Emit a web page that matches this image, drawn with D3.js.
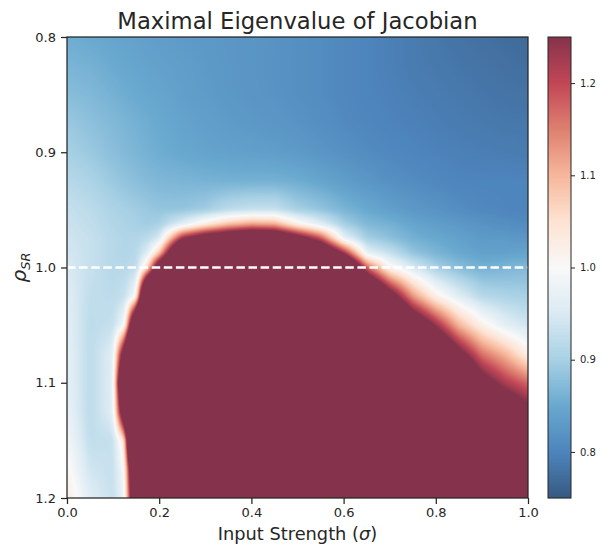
<!DOCTYPE html>
<html><head><meta charset="utf-8">
<script src="https://cdn.jsdelivr.net/npm/d3@7"></script>
<style>
body{margin:0;background:#fff;}
text{font-family:"DejaVu Sans",sans-serif;fill:#262626;}
</style>
</head><body>
<svg id="chart" width="602" height="545"></svg>
<script>
// ---------------- data ----------------
const sigmaGrid = [0,0.05,0.1,0.125,0.15,0.175,0.2,0.25,0.3,0.35,0.4,0.45,0.5,0.55,0.6,0.65,0.7,0.75,0.8,0.85,0.9,0.95,1.0];
const rhoGrid = [0.8,0.825,0.85,0.875,0.9,0.925,0.95,0.9625,0.975,0.9875,1.0,1.025,1.05,1.075,1.1,1.125,1.15,1.175,1.2];
// maximal eigenvalue of the Jacobian: one row per rho value, one column per sigma value
const eigenRows = [
 [0.855,0.85,0.845,0.842,0.84,0.837,0.835,0.83,0.828,0.825,0.822,0.82,0.815,0.81,0.805,0.80,0.795,0.79,0.785,0.78,0.777,0.773,0.77],
 [0.865,0.86,0.852,0.848,0.845,0.842,0.84,0.835,0.83,0.826,0.822,0.819,0.815,0.81,0.805,0.80,0.795,0.79,0.787,0.784,0.78,0.777,0.775],
 [0.875,0.87,0.86,0.855,0.851,0.848,0.845,0.838,0.832,0.827,0.823,0.82,0.815,0.81,0.805,0.80,0.797,0.793,0.79,0.787,0.784,0.781,0.78],
 [0.89,0.88,0.87,0.865,0.86,0.855,0.85,0.843,0.837,0.832,0.828,0.824,0.82,0.814,0.808,0.803,0.799,0.796,0.793,0.79,0.788,0.786,0.785],
 [0.90,0.89,0.877,0.871,0.865,0.86,0.855,0.848,0.843,0.84,0.838,0.835,0.83,0.823,0.816,0.81,0.805,0.801,0.798,0.795,0.793,0.792,0.79],
 [0.915,0.905,0.89,0.883,0.877,0.872,0.868,0.865,0.862,0.86,0.86,0.86,0.855,0.845,0.835,0.825,0.816,0.81,0.805,0.80,0.80,0.80,0.80],
 [0.93,0.92,0.905,0.90,0.895,0.89,0.885,0.885,0.895,0.92,0.93,0.93,0.90,0.885,0.865,0.85,0.838,0.828,0.82,0.812,0.806,0.802,0.80],
 [0.935,0.925,0.91,0.905,0.90,0.895,0.90,0.96,1.03,1.09,1.12,1.11,1.02,0.96,0.90,0.87,0.86,0.845,0.835,0.828,0.82,0.813,0.81],
 [0.94,0.93,0.915,0.91,0.91,0.92,0.95,1.25,1.35,1.40,1.45,1.43,1.32,1.20,0.975,0.90,0.88,0.86,0.85,0.84,0.83,0.83,0.825],
 [0.945,0.93,0.915,0.91,0.915,0.96,1.08,1.55,1.60,1.65,1.70,1.70,1.60,1.45,1.24,0.97,0.93,0.885,0.865,0.85,0.84,0.84,0.845],
 [0.95,0.93,0.915,0.915,0.92,1.06,1.38,1.80,1.90,2.0,2.0,2.0,2.0,1.70,1.55,1.18,1.01,0.95,0.90,0.875,0.86,0.865,0.87],
 [0.96,0.925,0.92,0.93,1.0,1.70,1.80,2.0,2.0,2.0,2.0,2.0,2.0,2.0,1.90,1.55,1.32,1.13,1.02,0.96,0.915,0.905,0.90],
 [0.965,0.92,0.93,0.99,1.55,1.90,2.0,2.0,2.0,2.0,2.0,2.0,2.0,2.0,2.0,1.90,1.60,1.38,1.24,1.10,1.02,0.965,0.94],
 [0.97,0.92,0.96,1.35,1.90,2.0,2.0,2.0,2.0,2.0,2.0,2.0,2.0,2.0,2.0,2.0,1.90,1.60,1.45,1.29,1.16,1.10,1.02],
 [0.97,0.92,0.96,1.60,2.0,2.0,2.0,2.0,2.0,2.0,2.0,2.0,2.0,2.0,2.0,2.0,2.0,1.90,1.65,1.50,1.30,1.22,1.17],
 [0.975,0.92,0.96,1.42,2.0,2.0,2.0,2.0,2.0,2.0,2.0,2.0,2.0,2.0,2.0,2.0,2.0,2.0,1.90,1.70,1.50,1.36,1.28],
 [0.99,0.925,0.93,1.05,2.0,2.0,2.0,2.0,2.0,2.0,2.0,2.0,2.0,2.0,2.0,2.0,2.0,2.0,2.0,1.90,1.70,1.55,1.45],
 [1.01,0.94,0.93,1.0,1.60,2.0,2.0,2.0,2.0,2.0,2.0,2.0,2.0,2.0,2.0,2.0,2.0,2.0,2.0,2.0,1.90,1.70,1.60],
 [1.03,0.96,0.93,0.98,1.50,1.90,2.0,2.0,2.0,2.0,2.0,2.0,2.0,2.0,2.0,2.0,2.0,2.0,2.0,2.0,2.0,1.85,1.70]
];
const xTicks = [0.0,0.2,0.4,0.6,0.8,1.0];
const yTicks = [0.8,0.9,1.0,1.1,1.2];
const cbarTicks = [0.8,0.9,1.0,1.1,1.2];
const colorRange = [0.75,1.25];
const thresholdRho = [1.0];
const titleText = "Maximal Eigenvalue of Jacobian";

// ---------------- layout ----------------
const svg = d3.select("#chart");
const x = d3.scaleLinear().domain([0,1]).range([67,528]);
const y = d3.scaleLinear().domain([0.8,1.2]).range([37,498]);
const cbX0 = 548, cbX1 = 571;
const cbY = d3.scaleLinear().domain(colorRange).range([498,37]);
const ALPHA = 0.8;

const stops = d3.schemeRdBu[11].slice().reverse();
const color = d3.scaleLinear()
  .domain(d3.range(11).map(k => colorRange[0] + (colorRange[1]-colorRange[0])*k/10))
  .range(stops).interpolate(d3.interpolateRgb).clamp(true);
function blend(v){
  const c = d3.rgb(color(v));
  return [c.r*ALPHA+255*(1-ALPHA), c.g*ALPHA+255*(1-ALPHA), c.b*ALPHA+255*(1-ALPHA)];
}

// bilinear sampling of the grid (index scales handle the non-uniform spacing)
const sIdx = d3.scaleLinear().domain(sigmaGrid).range(d3.range(sigmaGrid.length)).clamp(true);
const rIdx = d3.scaleLinear().domain(rhoGrid).range(d3.range(rhoGrid.length)).clamp(true);
function sample(sig, rho){
  const u = sIdx(sig), w = rIdx(rho);
  const i = Math.min(sigmaGrid.length-2, Math.floor(u)), j = Math.min(rhoGrid.length-2, Math.floor(w));
  const fu = u-i, fw = w-j;
  const a = eigenRows[j][i], b = eigenRows[j][i+1], c = eigenRows[j+1][i], d = eigenRows[j+1][i+1];
  return (a*(1-fu)+b*fu)*(1-fw) + (c*(1-fu)+d*fu)*fw;
}

// ---------------- heatmap ----------------
const px0 = Math.round(x.range()[0]), px1 = Math.round(x.range()[1]);
const py0 = Math.round(y.range()[0]), py1 = Math.round(y.range()[1]);
const W = px1-px0, H = py1-py0;
let field = new Float32Array(W*H);
for (let i=0;i<W;i++){
  const sig = x.invert(px0+i+0.5);
  for (let j=0;j<H;j++) field[j*W+i] = sample(sig, y.invert(py0+j+0.5));
}
// light smoothing of the sampled field (display antialiasing)
function boxPass(src, r, horiz){
  const out = new Float32Array(W*H);
  for (let a=0;a<(horiz?H:W);a++){
    for (let b=0;b<(horiz?W:H);b++){
      let s=0, n=0;
      for (let k=-r;k<=r;k++){
        const bb = Math.max(0, Math.min((horiz?W:H)-1, b+k));
        s += horiz ? src[a*W+bb] : src[bb*W+a]; n++;
      }
      if (horiz) out[a*W+b] = s/n; else out[b*W+a] = s/n;
    }
  }
  return out;
}
for (let p=0;p<2;p++){ field = boxPass(field,2,true); field = boxPass(field,2,false); }

const canvas = document.createElement("canvas");
canvas.width = W; canvas.height = H;
const ctx = canvas.getContext("2d");
const img = ctx.createImageData(W, H);
for (let k=0;k<W*H;k++){
  const c = blend(field[k]);
  img.data[4*k]=c[0]; img.data[4*k+1]=c[1]; img.data[4*k+2]=c[2]; img.data[4*k+3]=255;
}
ctx.putImageData(img,0,0);
svg.append("image").attr("x",px0).attr("y",py0).attr("width",W).attr("height",H)
  .attr("preserveAspectRatio","none").attr("href", canvas.toDataURL());

// threshold line
svg.selectAll(".thr").data(thresholdRho).join("line").attr("class","thr")
  .attr("x1", x(0)).attr("x2", x(1)).attr("y1", d=>y(d)).attr("y2", d=>y(d))
  .attr("stroke","#fff").attr("stroke-width",2.5).attr("stroke-dasharray","8.5,3.6");

// frame
svg.append("rect").attr("x",x(0)).attr("y",y(0.8)).attr("width",x(1)-x(0)).attr("height",y(1.2)-y(0.8))
  .attr("fill","none").attr("stroke","#262626").attr("stroke-width",1.25);

// axes
const fmt = d3.format(".1f");
const gx = svg.append("g").attr("transform",`translate(0,${y(1.2)})`)
  .call(d3.axisBottom(x).tickValues(xTicks).tickFormat(fmt).tickSize(6).tickPadding(4).tickSizeOuter(0));
const gy = svg.append("g").attr("transform",`translate(${x(0)},0)`)
  .call(d3.axisLeft(y).tickValues(yTicks).tickFormat(fmt).tickSize(6).tickPadding(5).tickSizeOuter(0));
[gx,gy].forEach(g=>{
  g.select(".domain").remove();
  g.selectAll(".tick line").attr("stroke","#262626").attr("stroke-width",1.25);
  g.selectAll(".tick text").attr("font-size",13).attr("fill","#262626")
    .style("font-family",'"DejaVu Sans",sans-serif');
});

// colorbar
const cbVals = d3.range(cbY.range()[1], cbY.range()[0]).map(p => cbY.invert(p+0.5));
svg.append("g").selectAll("rect").data(cbVals).join("rect")
  .attr("x", cbX0).attr("width", cbX1-cbX0)
  .attr("y", d => cbY(d)-0.5).attr("height", 1.2)
  .attr("fill", d => { const c = blend(d); return `rgb(${c[0]},${c[1]},${c[2]})`; });
svg.append("rect").attr("x",cbX0).attr("y",cbY(colorRange[1])).attr("width",cbX1-cbX0)
  .attr("height",cbY(colorRange[0])-cbY(colorRange[1]))
  .attr("fill","none").attr("stroke","#262626").attr("stroke-width",1);
const gc = svg.append("g").attr("transform",`translate(${cbX1},0)`)
  .call(d3.axisRight(cbY).tickValues(cbarTicks).tickFormat(fmt).tickSize(4).tickPadding(5).tickSizeOuter(0));
gc.select(".domain").remove();
gc.selectAll(".tick line").attr("stroke","#262626").attr("stroke-width",1);
gc.selectAll(".tick text").attr("font-size",10).attr("fill","#262626")
  .style("font-family",'"DejaVu Sans",sans-serif');

// title & labels
svg.append("text").attr("x",(x(0)+x(1))/2).attr("y",29).attr("text-anchor","middle")
  .attr("font-size",22.7).text(titleText);
const xl = svg.append("text").attr("x",(x(0)+x(1))/2).attr("y",540).attr("text-anchor","middle")
  .attr("font-size",17.8);
xl.append("tspan").text("Input Strength (");
xl.append("tspan").attr("font-style","italic").text("σ");
xl.append("tspan").text(")");
const yl = svg.append("text").attr("transform",`translate(26,${(y(0.8)+y(1.2))/2}) rotate(-90)`)
  .attr("text-anchor","middle").attr("font-size",20);
yl.append("tspan").attr("font-style","italic").text("ρ");
yl.append("tspan").attr("font-style","italic").attr("font-size",13).attr("dy",4).text("SR");
</script>
</body></html>
